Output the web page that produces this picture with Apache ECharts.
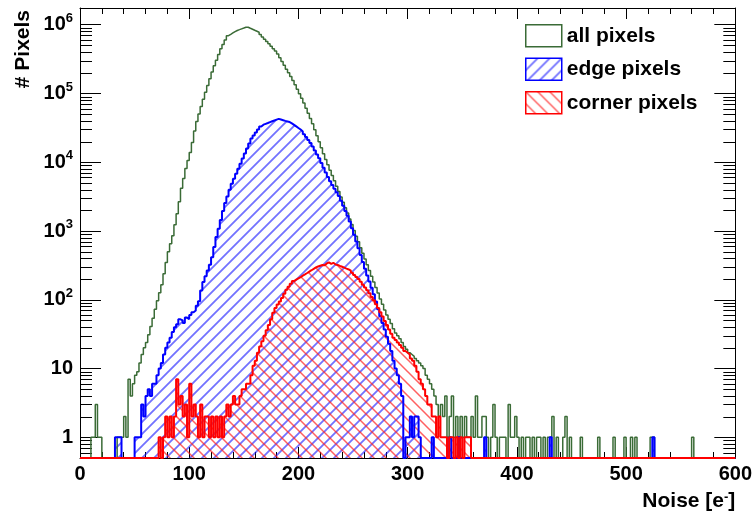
<!DOCTYPE html>
<html>
<head>
<meta charset="utf-8">
<title>Noise</title>
<script src="https://cdn.jsdelivr.net/npm/echarts@6/dist/echarts.min.js"></script>
<style>
  html, body { margin: 0; padding: 0; background: #fff; }
  #main { width: 755px; height: 518px; }
</style>
</head>
<body>
<div id="main"></div>
<script>
// histogram: 300 bins of 2 e- from 0 to 600
const binWidth = 2;
const xTickValues = [0, 100, 200, 300, 400, 500, 600];

const allPixels = [
  0, 0, 0, 0, 0, 1, 1, 3, 1, 1,
  0, 0, 0, 0, 0, 0, 0, 1, 1, 1,
  2, 1, 7, 4, 6, 8, 9, 12, 16, 20,
  24, 31, 41, 54, 73, 97, 127, 166, 240, 347,
  500, 653, 851, 1230, 1780, 2670, 4170, 5820, 8130, 10600,
  13900, 19300, 28500, 39200, 50300, 64400, 82400, 104000, 131000, 164000,
  205000, 252000, 305000, 369000, 447000, 517000, 598000, 692000, 724000, 759000,
  794000, 824000, 847000, 871000, 895000, 920000, 918000, 887000, 859000, 830000,
  803000, 776000, 719000, 665000, 617000, 571000, 528000, 487000, 449000, 414000,
  374000, 330000, 291000, 257000, 226000, 200000, 176000, 155000, 134000, 115000,
  99300, 85500, 72800, 61200, 51400, 43300, 36300, 29700, 24300, 19900,
  16200, 13300, 11000, 9180, 7670, 6410, 5360, 4480, 3740, 3130,
  2610, 2180, 1820, 1500, 1240, 1020, 841, 695, 573, 473,
  391, 323, 267, 220, 182, 151, 125, 103, 86, 71,
  60, 52, 45, 38, 33, 30, 27, 24, 21, 19,
  17, 16, 15, 14, 13, 12, 11, 10, 8, 7,
  6, 5, 4, 3, 2, 3, 2, 4, 1, 2,
  4, 1, 2, 1, 2, 1, 2, 1, 1, 2,
  1, 4, 1, 1, 2, 2, 1, 0, 1, 3,
  1, 0, 1, 1, 1, 0, 3, 1, 1, 2,
  1, 0, 1, 0, 1, 1, 0, 1, 0, 1,
  1, 0, 1, 0, 1, 1, 2, 0, 1, 0,
  0, 1, 2, 0, 1, 0, 0, 0, 0, 1,
  0, 0, 0, 0, 0, 0, 0, 1, 0, 0,
  0, 0, 0, 0, 1, 0, 0, 0, 0, 1,
  0, 0, 1, 0, 1, 0, 0, 0, 0, 0,
  0, 1, 1, 0, 0, 0, 0, 0, 0, 0,
  0, 0, 0, 0, 0, 0, 0, 0, 0, 0,
  1, 0, 0, 0, 0, 0, 0, 0, 0, 0,
  0, 0, 0, 0, 0, 0, 0, 0, 0, 0
];

const edgePixels = [
  0, 0, 0, 0, 0, 0, 0, 0, 0, 0,
  0, 0, 0, 0, 0, 0, 1, 1, 1, 0,
  0, 0, 0, 0, 0, 1, 1, 1, 3, 2,
  4, 5, 4, 6, 6, 8, 10, 12, 16, 20,
  24, 28, 34, 40, 44, 52, 50, 46, 55, 52,
  60, 66, 70, 82, 95, 136, 181, 219, 266, 323,
  416, 585, 817, 1080, 1450, 1950, 2560, 3180, 3970, 4880,
  5770, 6810, 8050, 9510, 11300, 13400, 15800, 18800, 22100, 24400,
  27000, 29900, 33100, 35200, 36200, 37200, 38300, 39400, 40500, 41600,
  42700, 41800, 40900, 40000, 39200, 38400, 36800, 35000, 33200, 31500,
  29900, 28000, 25500, 23200, 21100, 19100, 16900, 14800, 13000, 11400,
  9750, 8320, 7110, 6080, 5270, 4670, 4130, 3660, 3240, 2760,
  2330, 1960, 1660, 1380, 1100, 883, 706, 562, 447, 355,
  282, 226, 184, 149, 120, 94, 73, 58, 46, 37,
  29, 23, 18, 13, 10, 8, 6, 4, 0, 1,
  1, 2, 1, 2, 2, 1, 0, 0, 0, 0,
  0, 1, 0, 0, 0, 0, 0, 0, 0, 1,
  0, 0, 0, 1, 0, 0, 0, 0, 0, 0,
  0, 0, 0, 0, 0, 1, 0, 0, 0, 0,
  0, 0, 0, 0, 0, 0, 0, 0, 0, 0,
  0, 0, 0, 0, 0, 0, 0, 0, 0, 0,
  0, 0, 0, 0, 0, 1, 0, 0, 0, 0,
  0, 0, 0, 0, 0, 0, 0, 0, 0, 0,
  0, 0, 0, 0, 0, 0, 0, 0, 0, 0,
  0, 0, 0, 0, 0, 0, 0, 0, 0, 0,
  0, 0, 0, 0, 0, 0, 0, 0, 0, 0,
  0, 0, 1, 0, 0, 0, 0, 0, 0, 0,
  0, 0, 0, 0, 0, 0, 0, 0, 0, 0,
  0, 0, 0, 0, 0, 0, 0, 0, 0, 0,
  0, 0, 0, 0, 0, 0, 0, 0, 0, 0
];

const cornerPixels = [
  0, 0, 0, 0, 0, 0, 0, 0, 0, 0,
  0, 0, 0, 0, 0, 0, 0, 0, 0, 0,
  0, 0, 0, 0, 0, 0, 0, 0, 0, 0,
  0, 0, 0, 0, 0, 0, 1, 0, 1, 2,
  1, 2, 1, 2, 7, 3, 4, 2, 3, 1,
  6, 2, 3, 2, 1, 3, 1, 2, 2, 1,
  2, 1, 2, 1, 2, 1, 2, 3, 2, 3,
  4, 3, 3, 4, 5, 5, 6, 6, 8, 11,
  13, 17, 21, 25, 30, 36, 43, 52, 65, 76,
  85, 94, 106, 122, 140, 155, 171, 187, 196, 205,
  214, 224, 234, 245, 257, 269, 282, 295, 305, 313,
  321, 318, 338, 350, 333, 345, 326, 321, 311, 302,
  293, 284, 276, 265, 247, 230, 215, 200, 183, 166,
  151, 137, 124, 110, 98, 86, 76, 66, 57, 49,
  43, 37, 32, 28, 26, 24, 22, 20, 18, 17,
  16, 14, 13, 11, 9, 7, 6, 5, 4, 3,
  3, 2, 2, 1, 2, 1, 1, 1, 0, 1,
  1, 0, 1, 0, 1, 0, 1, 1, 1, 0,
  0, 0, 0, 0, 0, 0, 0, 0, 0, 0,
  0, 0, 0, 0, 0, 0, 0, 0, 0, 0,
  0, 0, 0, 0, 0, 0, 0, 0, 0, 0,
  0, 0, 0, 0, 0, 0, 0, 0, 0, 0,
  0, 0, 0, 0, 0, 0, 0, 0, 0, 0,
  0, 0, 0, 0, 0, 0, 0, 0, 0, 0,
  0, 0, 0, 0, 0, 0, 0, 0, 0, 0,
  0, 0, 0, 0, 0, 0, 0, 0, 0, 0,
  0, 0, 0, 0, 0, 0, 0, 0, 0, 0,
  0, 0, 0, 0, 0, 0, 0, 0, 0, 0,
  0, 0, 0, 0, 0, 0, 0, 0, 0, 0,
  0, 0, 0, 0, 0, 0, 0, 0, 0, 0
];

const yMin = 0.5;
const yMax = 1.75e6;
// minor ticks of the log axis (2..9 per decade)
const yMinorTicks = [
  0.6, 0.7, 0.8, 0.9,
  2, 3, 4, 5, 6, 7, 8, 9,
  20, 30, 40, 50, 60, 70, 80, 90,
  200, 300, 400, 500, 600, 700, 800, 900,
  2000, 3000, 4000, 5000, 6000, 7000, 8000, 9000,
  20000, 30000, 40000, 50000, 60000, 70000, 80000, 90000,
  200000, 300000, 400000, 500000, 600000, 700000, 800000, 900000
];

const green = '#3a6b36';
const blue = '#0000ff';
const red = '#ff0000';
const font = 'Liberation Sans';

function hatch(color, width, rising) {
  const n = 12;
  const c = document.createElement('canvas');
  c.width = n;
  c.height = n;
  const g = c.getContext('2d');
  g.strokeStyle = color;
  g.lineWidth = width;
  g.beginPath();
  if (rising) {
    g.moveTo(-1, n + 1); g.lineTo(n + 1, -1);
    g.moveTo(-1, 1); g.lineTo(1, -1);
    g.moveTo(n - 1, n + 1); g.lineTo(n + 1, n - 1);
  } else {
    g.moveTo(-1, -1); g.lineTo(n + 1, n + 1);
    g.moveTo(n - 1, -1); g.lineTo(n + 1, 1);
    g.moveTo(-1, n - 1); g.lineTo(1, n + 1);
  }
  g.stroke();
  return { image: c, repeat: 'repeat' };
}

const blueHatch = hatch('rgba(20,20,255,0.6)', 1.8, true);
const redHatch = hatch('rgba(255,30,30,0.7)', 1.5, false);

// empty bins sit on the bottom of the log axis
function toSteps(counts) {
  const pts = counts.map((v, i) => [i * binWidth, v > 0 ? v : yMin]);
  const last = counts[counts.length - 1];
  pts.push([counts.length * binWidth, last > 0 ? last : yMin]);
  return pts;
}

function logLabel(v) {
  const e = Math.round(Math.log10(v));
  if (Math.abs(v - Math.pow(10, e)) > 1e-6 * v) return '';
  if (e === 0) return '{b|1}';
  if (e === 1) return '{b|10}';
  return '{b|10}{s|' + e + '}';
}

const myChart = echarts.init(document.getElementById('main'));

const axisLineStyle = { color: '#000', width: 1 };

const option = {
  backgroundColor: '#fff',
  animation: false,
  grid: { left: 80, right: 19, top: 8, bottom: 60, containLabel: false },
  legend: {
    orient: 'vertical',
    left: 525,
    top: 24,
    padding: 0,
    itemGap: 10,
    itemWidth: 36,
    itemHeight: 22,
    icon: 'rect',
    selectedMode: false,
    textStyle: { fontFamily: font, fontWeight: 'bold', fontSize: 21, color: '#000' },
    data: [
      { name: 'all pixels', itemStyle: { color: '#fff', borderColor: green, borderWidth: 1.5 } },
      { name: 'edge pixels', itemStyle: { color: blueHatch, borderColor: blue, borderWidth: 1.5 } },
      { name: 'corner pixels', itemStyle: { color: redHatch, borderColor: red, borderWidth: 1.5 } }
    ]
  },
  xAxis: [{
    type: 'value',
    min: xTickValues[0],
    max: xTickValues[xTickValues.length - 1],
    interval: 100,
    position: 'bottom',
    axisLine: { show: true, onZero: false, lineStyle: axisLineStyle },
    axisTick: { show: true, inside: true, length: 11, lineStyle: axisLineStyle },
    minorTick: { show: true, splitNumber: 5, length: 6, lineStyle: axisLineStyle },
    splitLine: { show: false },
    axisLabel: { margin: 6, fontFamily: font, fontWeight: 'bold', fontSize: 20, color: '#000' },
    name: 'Noise [e{s|-}]',
    nameLocation: 'end',
    nameGap: 0,
    nameTextStyle: {
      align: 'right',
      verticalAlign: 'top',
      padding: [33, 0, 0, 0],
      fontFamily: font,
      fontWeight: 'bold',
      fontSize: 21,
      color: '#000',
      rich: {
        s: { fontFamily: font, fontWeight: 'bold', fontSize: 13, color: '#000', verticalAlign: 'top', lineHeight: 8 }
      }
    }
  }, {
    type: 'value',
    min: xTickValues[0],
    max: xTickValues[xTickValues.length - 1],
    interval: 100,
    position: 'top',
    axisLine: { show: true, onZero: false, lineStyle: axisLineStyle },
    axisTick: { show: true, inside: true, length: 11, lineStyle: axisLineStyle },
    minorTick: { show: true, splitNumber: 5, length: 6, lineStyle: axisLineStyle },
    splitLine: { show: false },
    axisLabel: { show: false }
  }],
  yAxis: [{
    type: 'log',
    logBase: 10,
    min: yMin,
    max: yMax,
    position: 'left',
    axisLine: { show: true, onZero: false, lineStyle: axisLineStyle },
    axisTick: { show: true, inside: true, length: 21, lineStyle: axisLineStyle },
    splitLine: { show: false },
    axisLabel: {
      margin: 7,
      formatter: logLabel,
      rich: {
        b: { fontFamily: font, fontWeight: 'bold', fontSize: 20, color: '#000', lineHeight: 26 },
        s: { fontFamily: font, fontWeight: 'bold', fontSize: 13, color: '#000', verticalAlign: 'top', lineHeight: 13 }
      }
    },
    name: '# Pixels',
    nameLocation: 'end',
    nameRotate: 90,
    nameGap: -2,
    nameTextStyle: {
      align: 'right',
      verticalAlign: 'bottom',
      padding: [0, 0, 46, 0],
      fontFamily: font,
      fontWeight: 'bold',
      fontSize: 21,
      color: '#000'
    }
  }, {
    type: 'log',
    logBase: 10,
    min: yMin,
    max: yMax,
    position: 'right',
    axisLine: { show: true, onZero: false, lineStyle: axisLineStyle },
    axisTick: { show: true, inside: true, length: 21, lineStyle: axisLineStyle },
    splitLine: { show: false },
    axisLabel: { show: false }
  }],
  series: [{
    name: 'all pixels',
    type: 'line',
    step: 'end',
    showSymbol: false,
    symbol: 'none',
    clip: true,
    lineStyle: { color: green, width: 1.5 },
    itemStyle: { color: green },
    data: toSteps(allPixels)
  }, {
    name: 'edge pixels',
    type: 'line',
    step: 'end',
    showSymbol: false,
    symbol: 'none',
    clip: true,
    lineStyle: { color: blue, width: 2 },
    itemStyle: { color: blue },
    areaStyle: { color: blueHatch, origin: 'start', opacity: 1 },
    data: toSteps(edgePixels)
  }, {
    name: 'corner pixels',
    type: 'line',
    step: 'end',
    showSymbol: false,
    symbol: 'none',
    clip: true,
    lineStyle: { color: red, width: 2 },
    itemStyle: { color: red },
    areaStyle: { color: redHatch, origin: 'start', opacity: 1 },
    data: toSteps(cornerPixels)
  }, {
    name: 'minor ticks',
    type: 'custom',
    silent: true,
    z: 3,
    data: yMinorTicks.map(v => [0, v]),
    renderItem: function (params, api) {
      const v = api.value(1);
      const l = api.coord([0, v]);
      const r = api.coord([600, v]);
      const y = Math.round(l[1]) + 0.5;
      return {
        type: 'group',
        children: [
          { type: 'line', shape: { x1: l[0], y1: y, x2: l[0] + 12, y2: y }, style: { stroke: '#000', lineWidth: 1 } },
          { type: 'line', shape: { x1: r[0] - 12, y1: y, x2: r[0], y2: y }, style: { stroke: '#000', lineWidth: 1 } }
        ]
      };
    }
  }]
};

myChart.setOption(option);
</script>
</body>
</html>
